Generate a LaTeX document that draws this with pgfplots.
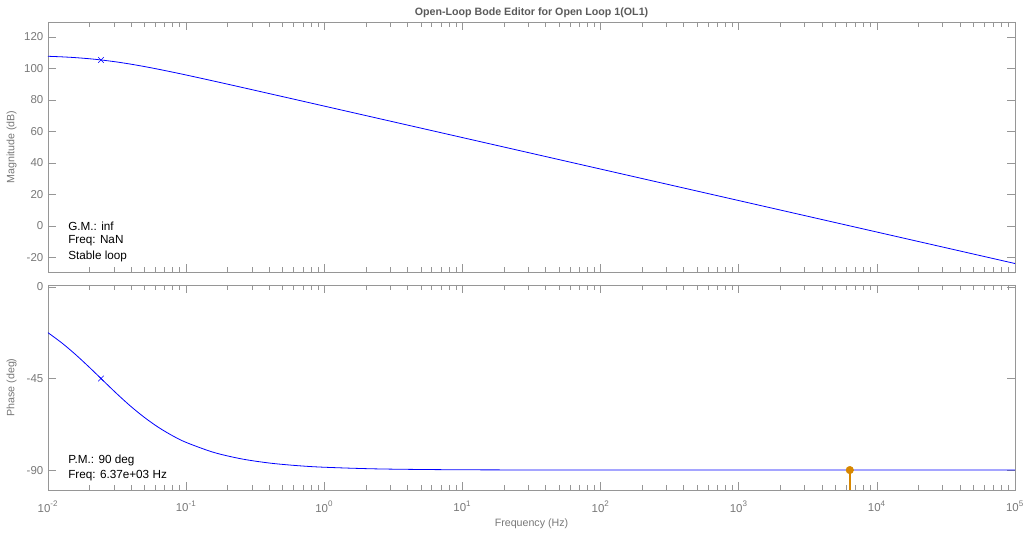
\documentclass[border=0pt]{standalone}
\usepackage{pgfplots}
\usepackage{pgfplotstable}
\pgfplotsset{compat=1.18}
\usepackage{fontspec}
\setmainfont{Liberation Sans}
\definecolor{axgray}{RGB}{150,150,150}
\definecolor{txtgray}{RGB}{120,120,120}
\definecolor{ttlgray}{RGB}{90,90,90}
\definecolor{mblue}{RGB}{0,0,255}
\definecolor{morange}{RGB}{215,135,0}

\pgfplotstableread{
f mag phase
0.01 107.72 -22.45
0.0126 107.36 -27.50
0.0158 106.86 -33.14
0.02 106.14 -39.57
0.0242 105.39 -45.00
0.0316 104.08 -52.55
0.0398 102.71 -58.70
0.05 101.18 -64.17
0.0631 99.48 -69.02
0.0794 97.69 -73.05
0.1 95.83 -76.40
0.158 92.00 -81.29
0.251 88.04 -84.49
0.398 84.06 -86.52
0.631 80.07 -87.80
1 76.07 -88.61
2.51 68.08 -89.45
10 56.08 -89.86
100 36.08 -89.99
1000 16.08 -90.00
10000 -3.92 -90.00
100000 -23.92 -90.00
}\bode

\pgfplotsset{
  bodeaxis/.style={
    scale only axis, anchor=south west,
    width=725.25pt,
    xmin=1e-2, xmax=1e5,
    axis line style={axgray, line width=0.6pt},
    every tick/.style={axgray, line width=0.5pt},
    major tick length=6pt, minor tick length=3.5pt,
    tick align=inside,
    xtick={1e-2,1e-1,1,10,100,1000,10000,100000},
    minor xtick={0.02,0.03,0.04,0.05,0.06,0.07,0.08,0.09,
      0.2,0.3,0.4,0.5,0.6,0.7,0.8,0.9,
      2,3,4,5,6,7,8,9,
      20,30,40,50,60,70,80,90,
      200,300,400,500,600,700,800,900,
      2000,3000,4000,5000,6000,7000,8000,9000,
      20000,30000,40000,50000,60000,70000,80000,90000},
    ticklabel style={font=\fontsize{8.6}{9}\selectfont, text=txtgray},
    label style={font=\fontsize{8}{9}\selectfont, text=txtgray},
    ylabel style={at={(rel axis cs:0,0.5)}, yshift=20pt},
  }
}

\begin{document}
\begin{tikzpicture}
\path[use as bounding box] (0pt,0pt) rectangle (770.25pt,400.5pt);
\begin{semilogxaxis}[bodeaxis, at={(36pt,196.5pt)}, height=187.5pt,
  ymin=-29.3, ymax=129.5,
  ytick={-20,0,20,40,60,80,100,120},
  yticklabels={-20,0,20,40,60,80,100,120},
  xticklabels={},
  ylabel={Magnitude (dB)},
  title={Open-Loop Bode Editor for Open Loop 1(OL1)},
  title style={font=\bfseries\fontsize{8}{9}\selectfont, text=ttlgray, yshift=-6pt},
]
\addplot[mblue, line width=0.6pt, smooth] table[x=f, y=mag] {\bode};
\addplot[mblue, only marks, mark=x, mark size=3pt] coordinates {(0.0242,105.39)};
\node[anchor=west, font=\fontsize{8.8}{10}\selectfont, inner sep=0pt] at (rel axis cs:0.0207,0.184) {G.M.: inf};
\node[anchor=west, font=\fontsize{8.8}{10}\selectfont, inner sep=0pt] at (rel axis cs:0.0207,0.124) {Freq: NaN};
\node[anchor=west, font=\fontsize{8.8}{10}\selectfont, inner sep=0pt] at (rel axis cs:0.0207,0.064) {Stable loop};
\end{semilogxaxis}

\begin{semilogxaxis}[bodeaxis, at={(36pt,33pt)}, height=153.75pt,
  ymin=-99.8, ymax=1,
  ytick={-90,-45,0},
  yticklabels={-90,-45,0},
  xticklabels={10\textsuperscript{-2},10\textsuperscript{-1},10\textsuperscript{0},10\textsuperscript{1},10\textsuperscript{2},10\textsuperscript{3},10\textsuperscript{4},10\textsuperscript{5}},
  xticklabel style={yshift=-5pt},
  xlabel={Frequency (Hz)},
  ylabel={Phase (deg)},
  xlabel style={yshift=2pt},
]
\addplot[mblue, line width=0.6pt, smooth] table[x=f, y=phase] {\bode};
\addplot[mblue, only marks, mark=x, mark size=3pt] coordinates {(0.0242,-45)};
\addplot[draw=morange, line width=1.1pt, no marks] coordinates {(6370,-90) (6370,-99.8)};
\addplot[morange, only marks, mark=*, mark size=2.8pt] coordinates {(6370,-90)};
\node[anchor=west, font=\fontsize{8.8}{10}\selectfont, inner sep=0pt] at (rel axis cs:0.0207,0.143) {P.M.: 90 deg};
\node[anchor=west, font=\fontsize{8.8}{10}\selectfont, inner sep=0pt] at (rel axis cs:0.0207,0.068) {Freq: 6.37e+03 Hz};
\end{semilogxaxis}
\end{tikzpicture}
\end{document}
